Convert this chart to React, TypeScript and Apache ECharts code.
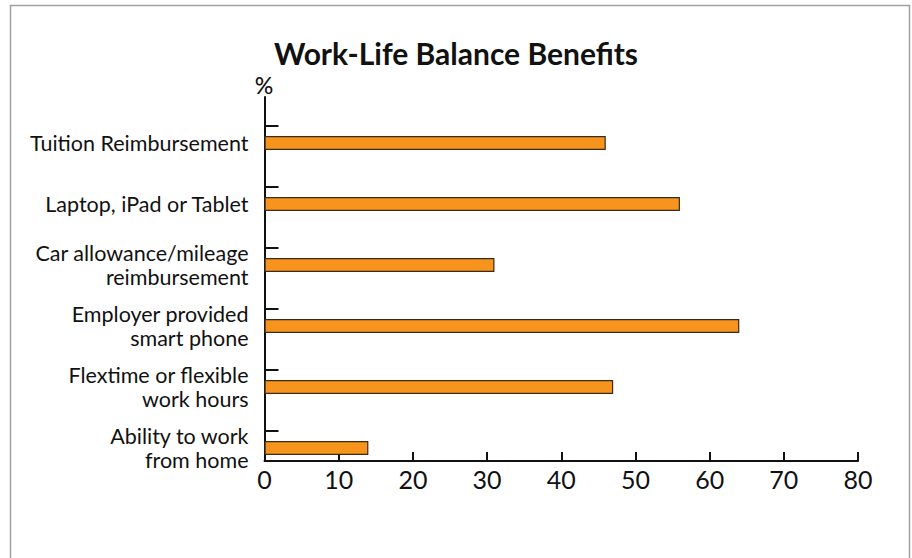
import React, { useEffect, useRef } from "react";
import * as echarts from "echarts";

const categories = [
  "Tuition Reimbursement",
  "Laptop, iPad or Tablet",
  "Car allowance/mileage\nreimbursement",
  "Employer provided\nsmart phone",
  "Flextime or flexible\nwork hours",
  "Ability to work\nfrom home",
];
const values = [46, 56, 31, 64, 47, 14];
const xTicks = [0, 10, 20, 30, 40, 50, 60, 70, 80];
const tickSlots = ["a", "b", "c", "d", "e"];

const FONT = "Lato";

export default function App() {
  const ref = useRef<HTMLDivElement>(null);
  useEffect(() => {
    if (!ref.current) return;
    const chart = echarts.init(ref.current, undefined, { renderer: "svg" });
    const left = 264.5;
    const width = 593.5;
    const catData = categories.map((c) =>
      c.includes("\n")
        ? { value: c, textStyle: { padding: [24, 0, 0, 0] } }
        : { value: c }
    );
    chart.setOption({
      animation: false,
      backgroundColor: "#ffffff",
      title: {
        text: "Work-Life Balance Benefits",
        left: "center",
        top: 33,
        textStyle: { fontFamily: FONT, fontWeight: "bold", fontSize: 30, color: "#111" },
      },
      graphic: [
        {
          type: "rect",
          shape: { x: 10.5, y: 5.5, width: 899, height: 620 },
          style: { fill: "none", stroke: "#a0a0a0", lineWidth: 1.5 },
          silent: true,
        },
        {
          type: "text",
          x: 264,
          y: 85,
          style: {
            text: "%",
            fontFamily: FONT,
            fontSize: 23,
            fontWeight: 500,
            fill: "#111",
            align: "center",
            verticalAlign: "middle",
          },
        },
      ],
      grid: [
        { left, width, top: 112.5, height: 366 },
        { left, width, top: 97, height: 364 },
        { left, width, top: 126, height: 305 },
      ],
      xAxis: [
        { gridIndex: 0, type: "value", min: 0, max: 80, show: false },
        {
          gridIndex: 1,
          type: "value",
          min: xTicks[0],
          max: xTicks[xTicks.length - 1],
          interval: 10,
          axisLine: { show: true, lineStyle: { color: "#111", width: 2 } },
          axisTick: { show: true, inside: true, length: 9, lineStyle: { color: "#111", width: 2 } },
          axisLabel: { fontFamily: FONT, fontSize: 25, color: "#111", margin: 5 },
          splitLine: { show: false },
        },
        { gridIndex: 2, type: "value", min: 0, max: 80, show: false },
      ],
      yAxis: [
        {
          gridIndex: 0,
          type: "category",
          inverse: true,
          data: catData,
          axisLine: { show: false },
          axisTick: { show: false },
          axisLabel: {
            interval: 0,
            hideOverlap: false,
            fontFamily: FONT,
            fontSize: 21.5,
            color: "#111",
            margin: 16,
            lineHeight: 24,
            align: "right",
          },
        },
        {
          gridIndex: 1,
          type: "value",
          min: 0,
          max: 1,
          axisLine: { show: true, lineStyle: { color: "#111", width: 2 } },
          axisTick: { show: false },
          axisLabel: { show: false },
          splitLine: { show: false },
        },
        {
          gridIndex: 2,
          type: "category",
          data: tickSlots,
          boundaryGap: true,
          axisLine: { show: false },
          axisTick: { show: true, inside: true, length: 14, lineStyle: { color: "#111", width: 2 } },
          axisLabel: { show: false },
        },
      ],
      series: [
        {
          type: "bar",
          xAxisIndex: 0,
          yAxisIndex: 0,
          data: values,
          barWidth: 14,
          itemStyle: { color: "#F7941E", borderColor: "#3a2a1a", borderWidth: 1.2 },
        },
      ],
    });
    return () => chart.dispose();
  }, []);
  return (
    <div
      ref={ref}
      style={{ position: "fixed", left: 0, top: 0, width: 912, height: 558 }}
    />
  );
}
